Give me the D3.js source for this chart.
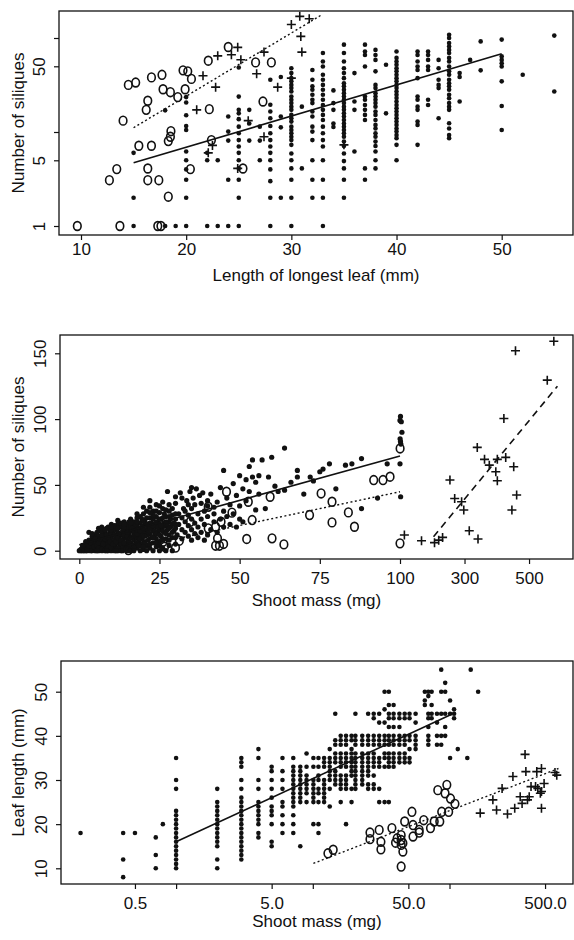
<!DOCTYPE html>
<html>
<head>
<meta charset="utf-8">
<script src="https://cdn.jsdelivr.net/npm/d3@7/dist/d3.min.js"></script>
<style>
  body { margin: 0; background: #fff; }
  svg text { font-family: "Liberation Sans", Arial, Helvetica, sans-serif; fill: #111; }
</style>
</head>
<body>
<svg id="fig" width="574" height="940"></svg>
<script>
// ---------- panel 1: siliques vs length of longest leaf (log y) ----------
// filled dots, grouped in columns: [leaf length, [siliques...]]
var p1Dots = [
  [15, [1, 2, 6]], [18, [1, 17]], [19, [1]],
  [20, [1, 2, 3.1, 4, 5, 6.2, 10.5, 11.6, 15.1, 20.6, 23.5]],
  [22, [1, 5, 6]], [23, [1, 5]],
  [24, [1, 3.1, 8.1, 10.1, 14.6]],
  [25, [1, 2, 3.1, 4.1, 5, 6, 7, 8.2, 9.7, 11.4, 13.7, 15.8, 17.2, 23.8, 48.6]],
  [26, [8.1, 12.3, 17.2]], [27, [5, 8.1, 11.4]],
  [28, [1, 2, 3, 4, 5, 6, 7, 8.2, 9.7, 11.6, 14, 16.5, 19.5, 36]],
  [29, [2, 11.2, 14.6, 38.4]],
  [30, [1, 2, 3.1, 4.1, 5, 5.9, 7.3, 8.2, 8.9, 9.7, 10.5, 11.4, 12.9, 14, 15.2, 17.2, 18.6, 20.3, 22, 23.8, 27, 29.3, 31.7, 34.6, 37.4, 42.3, 47.6]],
  [31, [4.1, 18.6]],
  [32, [2, 3.1, 5, 8.2, 10.1, 11.4, 14.6, 16.5, 20.3, 22, 24.9, 28.2, 30.6, 36, 45.7]],
  [33, [1, 2, 3.1, 5, 7, 8.2, 9.7, 11.4, 13.4, 15.2, 17.2, 19.4, 22, 24.9, 28.2, 31.7, 36, 40.6, 49.8, 56.3, 69.3]],
  [34, [11.3, 12.3, 17.2, 20.3, 27.7]],
  [35, [2, 3.1, 4.1, 4.9, 5.9, 7.1, 7.9, 8.9, 9.7, 10.5, 11.4, 12.3, 13.4, 14.6, 15.8, 17.2, 18.6, 20.3, 22, 23.8, 25.9, 28.2, 30.6, 33, 37.4, 42.3, 47.6, 56.3, 69.3, 85]],
  [36, [6.2, 17.2, 21.1, 42.3]],
  [37, [3.1, 4.1, 13.4, 15.2, 17.2, 19.4, 22, 23.8, 49.8, 66, 71.8, 85]],
  [38, [4.1, 5, 6.2, 7.1, 7.9, 8.9, 9.7, 10.9, 11.9, 13.4, 15.2, 16.5, 18.6, 20.3, 22, 23.8, 25.9, 29.3, 31.7, 44.2, 58.5, 66, 74.7]],
  [39, [15.8, 52]],
  [40, [5, 7.3, 8.6, 9.3, 10.1, 10.9, 11.9, 12.9, 14, 15.2, 16.5, 17.9, 19.4, 21.1, 23, 24.9, 27, 29.3, 31.7, 34.6, 37.4, 40.6, 44.2, 47.6, 52, 56.3, 61.4, 71.8]],
  [42, [7.3, 11.9, 12.9, 17.2, 18.6, 22, 23.8, 37.4, 45.7, 49.8, 56.3, 66, 71.8]],
  [43, [19.4, 22, 45.7, 49.8, 58.5, 66, 71.8]],
  [44, [14, 29.3, 31.7, 36, 47.6, 58.5]],
  [45, [8.6, 9.3, 10.9, 12.4, 17.2, 18.6, 20.3, 22.9, 24.9, 28.2, 30.6, 33, 36, 40.6, 44.2, 49.8, 56.3, 61.4, 69.3, 74.7, 81.4, 88.6, 100, 108]],
  [46, [21.1, 38.4, 42.3]], [47, [58.5]], [48, [45.3, 92]],
  [50, [10.5, 18.9, 34.6, 49.8, 53.9, 58.5, 63.7, 96.2]],
  [52, [40.6]], [55, [27, 106]]
];
var p1Circles = [
  [9.65, 1], [13.7, 1], [17.3, 1], [17.6, 1], [12.7, 3.07], [13.4, 4.03], [16.35, 4.09],
  [16.35, 3.07], [17.4, 3.07], [18.3, 2.05], [15.5, 7.14], [16.7, 7.14], [18.3, 8.0],
  [18.5, 8.9], [18.55, 10.2], [22.4, 8.2], [20.4, 4.03], [25.4, 4.09], [14.0, 13.2],
  [16.2, 17.2], [16.35, 21.5], [22.2, 17.5], [27.3, 21.1], [14.5, 31.7], [15.2, 33.6],
  [16.7, 38.1], [17.7, 40.6], [17.8, 28.5], [18.5, 26.5], [19.2, 23.5], [19.9, 28.5],
  [19.7, 45.3], [20.15, 44.2], [20.5, 36.7], [22.1, 57.3], [24.0, 80.2], [26.6, 55], [28.1, 55]
];
var p1Plus = [
  [24.9, 79.5], [23.0, 64.6], [24.3, 66.3], [25.2, 58.7], [21.6, 39.6], [22.8, 30.0],
  [21.0, 17.2], [26.7, 41.6], [27.4, 70.8], [28.7, 30.0], [30.0, 37.4], [30.0, 139],
  [30.8, 170], [31.7, 160], [30.9, 104], [31.0, 70.8], [25.9, 13.2], [22.5, 7.2],
  [22.1, 6.0], [24.9, 4.1], [27.4, 8.9], [35.0, 7.3]
];
var p1Solid = [[15, 4.7], [50, 68]];
var p1Dotted = [[15, 11.1], [32.9, 177]];

// ---------- panel 2: siliques vs shoot mass (broken x axis above 100 mg) ----------
var p2Dots = [
  [0.5, 0], [1, 0], [1.5, 1], [2, 0], [2, 2], [2.5, 4], [3, 1], [3, 6], [3, 14], [3.5, 3], [4, 0], [4, 2], [4, 5], [4, 8], [4.5, 10], [5, 0], [5, 3], [5, 6], [5, 12],
  [5.5, 1], [6, 0], [6, 4], [6, 8], [6, 11], [6.5, 2], [6.5, 15], [7, 0], [7, 3], [7, 6], [7, 9], [7, 18], [7.5, 12], [8, 1], [8, 4], [8, 7], [8, 10], [8, 14], [8.5, 2], [8.5, 17], [9, 0], [9, 5], [9, 8], [9, 12], [9.5, 3], [9.5, 15], [10, 0], [10, 6], [10, 10], [10, 20],
  [10.5, 2], [10.5, 13], [11, 4], [11, 8], [11, 16], [11.5, 1], [11.5, 11], [12, 0], [12, 6], [12, 14], [12, 20], [12.5, 3], [12.5, 9], [13, 5], [13, 12], [13, 18], [13.5, 1], [13.5, 8], [14, 3], [14, 10], [14, 15], [14, 22], [14.5, 6], [14.5, 13], [15, 0], [15, 4], [15, 9], [15, 17], [15, 20],
  [15.5, 2], [15.5, 12], [16, 6], [16, 15], [16, 19], [16.5, 3], [16.5, 10], [17, 8], [17, 13], [17, 18], [17, 22], [17.5, 5], [17.5, 15], [18, 2], [18, 10], [18, 19], [18, 25], [18.5, 7], [18.5, 14], [19, 4], [19, 12], [19, 17], [19, 21], [19.5, 9], [19.5, 24], [20, 1], [20, 6], [20, 14], [20, 19], [20, 28],
  [20.5, 11], [20.5, 22], [21, 4], [21, 16], [21, 25], [21.5, 8], [21.5, 19], [22, 2], [22, 13], [22, 21], [22, 33], [22, 38], [22.5, 10], [22.5, 17], [23, 6], [23, 15], [23, 24], [23, 30], [23.5, 12], [23.5, 20], [24, 3], [24, 9], [24, 18], [24, 26], [24.5, 14], [24.5, 22], [25, 7], [25, 16], [25, 20], [25, 29],
  [25.5, 11], [25.5, 24], [26, 2], [26, 18], [26, 32], [26.5, 14], [26.5, 21], [27, 9], [27, 19], [27, 26], [27.5, 16], [27.5, 45], [28, 4], [28, 12], [28, 22], [28, 30], [28.5, 18], [29, 10], [29, 20], [29, 27], [29.5, 15], [30, 5], [30, 17], [30, 24], [30, 36],
  [30.5, 12], [31, 20], [31, 28], [31.5, 44], [32, 9], [32, 16], [32, 25], [32.5, 32], [33, 14], [33, 22], [33, 30], [33.5, 38], [34, 11], [34, 19], [34, 27], [34.5, 45], [35, 8], [35, 16], [35, 24], [35, 32], [35, 48], [35.5, 40], [36, 13], [36, 21], [36, 35], [36.5, 47], [37, 10], [37, 18], [37, 28], [37.5, 42], [38, 14], [38, 24], [38, 36], [38.5, 44], [39, 8], [39, 20], [39, 30], [40, 12], [40, 26], [40, 34], [40, 38],
  [41, 16], [41, 43], [42, 22], [42, 33], [42, 28], [43, 37], [43, 14], [44, 24], [44, 48], [45, 18], [45, 61], [45, 30], [46, 40], [46, 26], [47, 20], [47, 35], [48, 51], [48, 28], [49, 18], [49, 42], [50, 57], [50, 34], [50, 24], [51, 47], [51, 22], [52, 54], [52, 38], [53, 64], [53, 45], [54, 69], [54, 56], [55, 52], [55, 31], [56, 43], [56, 57],
  [57, 69], [58, 32], [59, 56], [60, 71], [61, 49], [62, 45], [64, 78], [64, 46], [66, 52], [68, 61], [68, 56], [70, 43], [72, 56], [73, 53], [75, 60], [76, 62], [78, 66], [80, 47], [83, 65], [85, 66], [88, 70], [88, 32], [93, 40], [96, 66], [100, 66],
  [100, 99], [101.5, 102], [100.3, 85], [101.5, 83], [102.6, 81], [104, 98], [106, 90], [102, 41],
  // the heavily overplotted cloud of small plants
  [0, 0], [0.5, 1], [1, 2], [1.5, 0], [2, 5], [2.5, 1], [3, 3], [3, 8], [3.5, 0], [3.5, 6], [4, 11], [4.5, 3], [5, 9], [5.5, 4], [5.5, 14], [6, 2], [6, 6], [6.5, 9], [7, 1], [7, 12], [7, 15], [7.5, 5], [8, 0], [8, 9], [8.5, 12], [9, 3], [9, 10], [9, 18], [9.5, 7], [10, 2], [10, 13], [10, 16],
  [10.5, 5], [11, 0], [11, 12], [11, 19], [11.5, 7], [12, 2], [12, 10], [12, 17], [12.5, 13], [13, 0], [13, 8], [13, 21], [13.5, 15], [14, 6], [14, 12], [14, 18], [14.5, 2], [15, 11], [15, 14], [15.5, 7], [15.5, 22], [16, 0], [16, 10], [16, 24], [16.5, 17], [17, 3], [17, 11], [17, 15], [17.5, 20], [18, 6], [18, 13], [18, 16], [18, 22], [18.5, 4], [19, 9], [19, 15], [19, 26], [19.5, 18], [20, 3], [20, 11], [20, 17], [20, 23],
  [20.5, 7], [21, 12], [21, 20], [21, 30], [21.5, 14], [22, 5], [22, 17], [22, 25], [22.5, 21], [23, 10], [23, 19], [23, 27], [23.5, 15], [24, 6], [24, 13], [24, 22], [24, 30], [24.5, 18], [25, 4], [25, 12], [25, 24], [25, 34], [25.5, 19], [26, 8], [26, 15], [26, 25], [26.5, 28], [27, 13], [27, 22], [27, 31], [27.5, 19], [28, 8], [28, 17], [28, 26], [28.5, 24], [29, 14], [29, 32], [29.5, 21], [30, 10], [30, 20], [30, 28],
  [2.5, 0], [5.5, 0], [8.5, 0], [11.5, 0], [13.5, 0], [17, 0], [19, 0], [21, 0], [23, 0], [25, 0], [27, 0], [29, 0],
  [1, 4], [2, 7], [4, 13], [6, 17], [8, 16], [10, 18], [12, 23], [14, 20], [16, 21], [18, 28], [20, 33], [22, 29], [24, 35], [26, 37], [28, 35], [30, 41], [32, 40], [34, 35]
];
var p2Circles = [
  [100.3, 77.7], [100, 5.6], [91.8, 53.7], [94.7, 53.7], [96.9, 56.2], [75.4, 43.5], [78.8, 37.2],
  [71.8, 27.1], [78.8, 21.5], [83.9, 29.1], [85.8, 18.2], [59.5, 41], [52.7, 37.2], [53.9, 23.3],
  [60.1, 9.4], [63.8, 4.8], [52.2, 8.9], [45.9, 44.8], [47.6, 28.9], [44.2, 22], [43.1, 9.4],
  [42.5, 3.8], [43.7, 3.8], [45, 5.1], [40.2, 33.4], [42.5, 18.2], [26.6, 3], [30, 2.3],
  [26.1, 6.8], [31.2, 7.6], [15.3, 0.5], [20.4, 10.6], [21.5, 22], [16.4, 8.1], [34.6, 22], [40.2, 17]
];
var p2Plus = [
  [113.6, 11.9], [166.7, 7.6], [207, 6.1], [232, 10.1], [220, 8], [254.8, 53.7], [269.5, 39.7],
  [291, 37.2], [297.7, 30.9], [314.7, 15.2], [339.5, 78.5], [341.8, 8.9], [362, 69.4],
  [376.8, 65], [401.7, 69.4], [397, 60], [401.7, 53.2], [422, 100.5], [427.7, 70.9],
  [446.9, 30.9], [452.5, 63.8], [458, 151.9], [461.6, 42.3], [556.5, 129.6], [576.8, 159.2]
];
var p2Solid = [[0, 4.5], [100, 72]];
var p2Dotted = [[31, 9.4], [100, 44.8]];
var p2Dashed = [[204, 10.6], [588, 125]];

// ---------- panel 3: leaf length vs shoot mass (log x) ----------
// filled dots in columns: [shoot mass, [leaf lengths...]]
var p3Dots = [
  [0.2, [18]], [0.41, [8, 12, 18]], [0.5, [18]], [0.71, [10, 13, 17]], [0.8, [20]],
  [1.0, [10, 11, 12, 13, 14, 15, 16, 17, 18, 19, 20, 21, 22, 23, 28, 30, 35]],
  [2.0, [10, 12, 15, 16, 17, 18, 19, 20, 21, 22, 23, 24, 25, 28]],
  [3.0, [12, 13, 14, 15, 16, 17, 18, 19, 20, 21, 22, 23, 24, 25, 26, 28, 30, 33, 34, 35]],
  [4.0, [17, 18, 20, 21, 22, 23, 24, 25, 28, 30, 35, 37]],
  [5.0, [15, 16, 20, 22, 23, 24, 26, 28, 30, 32, 33]],
  [6.0, [18, 20, 22, 24, 25, 28, 30, 32, 35]],
  [7.2, [18, 20, 22, 24, 25, 26, 27, 28, 29, 30, 31, 32, 33, 35]],
  [8.1, [15, 25, 26, 27, 28, 29, 30, 31, 32, 33]],
  [9.0, [25, 27, 28, 29, 30, 31, 33, 36]],
  [10.1, [20, 25, 26, 27, 28, 29, 30, 33, 35]],
  [11, [18, 20, 25, 27, 28, 30, 31, 33, 35]],
  [12.1, [25, 26, 27, 28, 29, 30, 33, 34, 35]],
  [13.3, [24, 28, 30, 31, 32, 33, 34, 35, 37]],
  [14.6, [29, 30, 31, 32, 34, 35, 36, 38, 39, 45]],
  [16, [25, 28, 29, 30, 31, 33, 34, 35, 36, 38, 39, 40]],
  [17.5, [20, 28, 29, 30, 31, 33, 34, 35, 36, 38, 39, 40]],
  [19.2, [25, 28, 31, 32, 33, 34, 35, 36, 37, 39, 40]],
  [20.5, [28, 29, 30, 31, 32, 33, 34, 35, 36, 38, 39, 40, 45]],
  [23, [29, 30, 31, 32, 33, 34, 35, 36, 38, 39, 40]],
  [25.4, [28, 29, 31, 32, 33, 34, 35, 36, 38, 39, 40, 45]],
  [27.9, [28, 29, 31, 33, 34, 35, 36, 38, 39, 40, 44, 45]],
  [30.6, [25, 28, 33, 34, 35, 38, 39, 40, 43, 45]],
  [33.5, [25, 33, 35, 36, 38, 39, 40, 43, 46, 50]],
  [36, [25, 33, 34, 35, 36, 38, 39, 40, 42, 44, 45, 47, 50]],
  [39, [33, 34, 35, 36, 38, 39, 40, 42, 44, 45, 47]],
  [43, [34, 35, 36, 38, 39, 40, 42, 44, 45]],
  [47, [34, 35, 36, 38, 39, 40, 44, 45]],
  [51, [34, 35, 37, 39, 40, 44, 45]],
  [56.5, [37, 38, 39, 40, 43, 45]],
  [66, [47, 48, 50]], [70, [38, 39, 40, 42, 44, 45, 49, 50]],
  [74, [44, 45, 47, 50]], [81, [38, 40, 43, 45]], [87, [38, 40, 45, 50, 55]],
  [93, [40, 42, 45, 50, 52]], [101, [35, 45, 48]], [108, [44, 45, 46]],
  [115, [37]], [135, [35]], [143, [55]], [162, [50]]
];
var p3Circles = [
  [12.9, 13.4], [14.1, 14.2], [26.2, 18.1], [26.2, 16.6], [30.6, 18.7], [31.5, 16], [31.5, 14.3],
  [37.9, 19.1], [40.3, 15.8], [41.4, 16.8], [44.3, 17.5], [44.3, 16.4], [44.3, 15.3], [45.6, 13.8],
  [45.6, 15.7], [47, 20.6], [44.3, 10.4], [53.1, 22.8], [54.1, 19.8], [54.1, 17.2], [60, 18.7],
  [60, 18.1], [64.8, 20.9], [72.6, 19.1], [77.3, 20.6], [84.9, 20.6], [87.7, 22.8], [82.1, 27.7],
  [95.6, 28.9], [92.8, 27], [101.7, 25.8], [109.6, 24.6], [98.6, 22.8]
];
var p3Plus = [
  [167.8, 22.5], [207.6, 25.5], [220.9, 23.2], [242.5, 28.1], [265.5, 22.3], [291, 30.8],
  [300, 23.6], [329, 26.2], [339.6, 24.7], [357, 35.8], [362, 31.9], [372, 25.5], [383, 26.2],
  [394.8, 28.5], [435, 31.9], [470.7, 32.6], [426, 28.5], [442.6, 28.1], [462, 27], [470.7, 23.6],
  [471, 27.4], [492, 29.2], [591, 31.7], [609, 31.1]
];
var p3Solid = [[1.0, 16], [101, 44.7]];
var p3Dotted = [[10.1, 11.1], [627, 32.6]];

var svg = d3.select("#fig");

function columnsToPoints(cols) {
  var pts = [];
  cols.forEach(function (c) {
    c[1].forEach(function (v) { pts.push([c[0], v]); });
  });
  return pts;
}

function drawPanel(p) {
  var g = svg.append("g");
  var x = p.x, y = p.y;

  // frame
  g.append("rect")
    .attr("x", p.left).attr("y", p.top)
    .attr("width", p.right - p.left).attr("height", p.bottom - p.top)
    .attr("fill", "none").attr("stroke", "#111").attr("stroke-width", 1.3);

  // y axis
  var ya = g.append("g")
    .attr("transform", "translate(" + p.left + ",0)")
    .call(d3.axisLeft(y).tickValues(p.yTicks).tickSize(5).tickSizeOuter(0)
      .tickFormat(function (d) { return p.yLabels.indexOf(d) >= 0 ? p.yFmt(d) : ""; }));
  ya.select(".domain").remove();
  ya.selectAll("line").attr("stroke", "#111").attr("stroke-width", 1.2);
  ya.selectAll("text")
    .attr("x", null).attr("dy", null)
    .attr("text-anchor", "middle")
    .attr("transform", "translate(-14,0) rotate(-90)")
    .style("font-size", "17px");

  // x axis
  var xa = g.append("g")
    .attr("transform", "translate(0," + p.bottom + ")")
    .call(d3.axisBottom(x).tickValues(p.xTicks).tickSize(5).tickSizeOuter(0).tickPadding(p.xPad)
      .tickFormat(function (d) { return p.xLabels.indexOf(d) >= 0 ? p.xFmt(d) : ""; }));
  xa.select(".domain").remove();
  xa.selectAll("line").attr("stroke", "#111").attr("stroke-width", 1.2);
  xa.selectAll("text").style("font-size", "17px");

  // titles
  g.append("text")
    .attr("x", (p.left + p.right) / 2).attr("y", p.xTitleY)
    .attr("text-anchor", "middle").style("font-size", "17px")
    .text(p.xTitle);
  g.append("text")
    .attr("transform", "translate(24," + ((p.top + p.bottom) / 2) + ") rotate(-90)")
    .attr("text-anchor", "middle").style("font-size", "17px")
    .text(p.yTitle);

  var marks = g.append("g");

  // filled dots
  marks.selectAll("circle.dot").data(p.dots).enter().append("circle")
    .attr("class", "dot")
    .attr("cx", function (d) { return x(d[0]); })
    .attr("cy", function (d) { return y(d[1]); })
    .attr("r", p.r).attr("fill", "#111");

  // open "o" symbols
  marks.selectAll("ellipse.open").data(p.circles).enter().append("ellipse")
    .attr("class", "open")
    .attr("cx", function (d) { return x(d[0]); })
    .attr("cy", function (d) { return y(d[1]); })
    .attr("rx", 3.8).attr("ry", 4.4)
    .attr("fill", "none").attr("stroke", "#111").attr("stroke-width", 1.6);

  // plus symbols
  marks.selectAll("path.plus").data(p.plus).enter().append("path")
    .attr("class", "plus")
    .attr("d", function (d) {
      var cx = x(d[0]), cy = y(d[1]), s = 4.5;
      return "M" + (cx - s) + "," + cy + "H" + (cx + s) + "M" + cx + "," + (cy - s) + "V" + (cy + s);
    })
    .attr("stroke", "#111").attr("stroke-width", 1.6).attr("fill", "none");

  var line = d3.line().x(function (d) { return x(d[0]); }).y(function (d) { return y(d[1]); });
  p.fits.forEach(function (f) {
    marks.append("path")
      .attr("d", line(f.pts))
      .attr("fill", "none").attr("stroke", "#111")
      .attr("stroke-width", f.w).attr("stroke-dasharray", f.dash);
  });
}

drawPanel({
  left: 59, right: 573, top: 11, bottom: 235, xPad: 3, xTitleY: 281, r: 2.3,
  x: d3.scaleLinear().domain([10, 50]).range([81, 501.7]),
  y: d3.scaleLog().domain([1, 100]).range([226, 38]),
  xTicks: [10, 20, 30, 40, 50], xLabels: [10, 20, 30, 40, 50], xFmt: d3.format("d"),
  yTicks: [1, 5, 10, 50, 100], yLabels: [1, 5, 50], yFmt: d3.format("d"),
  xTitle: "Length of longest leaf (mm)", yTitle: "Number of siliques",
  dots: columnsToPoints(p1Dots), circles: p1Circles, plus: p1Plus,
  fits: [
    { pts: p1Solid, w: 1.6, dash: null },
    { pts: p1Dotted, w: 1.4, dash: "2,2.5" }
  ]
});

drawPanel({
  left: 60, right: 573, top: 335, bottom: 559, xPad: 8, xTitleY: 606, r: 2.6,
  x: d3.scaleLinear().domain([0, 100, 600]).range([79.3, 400, 561.3]),
  y: d3.scaleLinear().domain([0, 150]).range([550.7, 353.3]),
  xTicks: [0, 25, 50, 75, 100, 300, 500], xLabels: [0, 25, 50, 75, 100, 300, 500], xFmt: d3.format("d"),
  yTicks: [0, 50, 100, 150], yLabels: [0, 50, 100, 150], yFmt: d3.format("d"),
  xTitle: "Shoot mass (mg)", yTitle: "Number of siliques",
  dots: p2Dots, circles: p2Circles, plus: p2Plus,
  fits: [
    { pts: p2Solid, w: 1.6, dash: null },
    { pts: p2Dotted, w: 1.4, dash: "2,2.5" },
    { pts: p2Dashed, w: 1.6, dash: "7,5" }
  ]
});

drawPanel({
  left: 61, right: 573, top: 661, bottom: 884, xPad: 8, xTitleY: 927, r: 2.3,
  x: d3.scaleLog().domain([1, 100]).range([176.1, 449.5]),
  y: d3.scaleLinear().domain([10, 50]).range([868.3, 691.7]),
  xTicks: [0.5, 1, 5, 10, 50, 100, 500], xLabels: [0.5, 5, 50, 500], xFmt: d3.format(".1f"),
  yTicks: [10, 20, 30, 40, 50], yLabels: [10, 20, 30, 40, 50], yFmt: d3.format("d"),
  xTitle: "Shoot mass (mg)", yTitle: "Leaf length (mm)",
  dots: columnsToPoints(p3Dots), circles: p3Circles, plus: p3Plus,
  fits: [
    { pts: p3Solid, w: 1.6, dash: null },
    { pts: p3Dotted, w: 1.4, dash: "2,2.5" }
  ]
});
</script>
</body>
</html>
